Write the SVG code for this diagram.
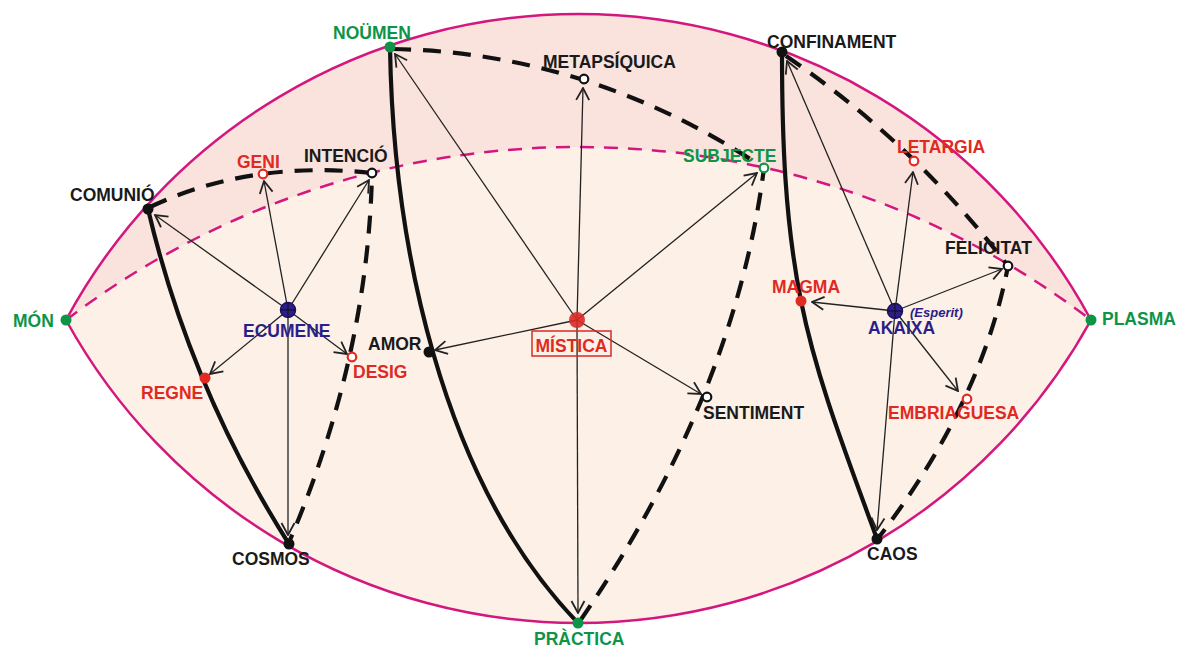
<svg xmlns="http://www.w3.org/2000/svg" width="1180" height="647" viewBox="0 0 1180 647">
<defs>
<style>
text{font-family:"Liberation Sans",Arial,sans-serif;font-weight:bold;font-size:17.5px;}
.k{fill:#1a1a1a}.r{fill:#df2a24}.g{fill:#0e9446}.n{fill:#2c1e8a}
.thick{fill:none;stroke:#111;stroke-width:4.2;stroke-linecap:butt}
.dash{fill:none;stroke:#111;stroke-width:4.2;stroke-dasharray:18 12}
.thin{fill:none;stroke:#222;stroke-width:1.3;marker-end:url(#ah)}
.dk{fill:#111}.dr{fill:#e02a22}.dg{fill:#0e9446}
.ho{fill:#fff;stroke-width:2.2}
.hub{fill:#2c1e8a;stroke:#1a1060;stroke-width:1.5}
</style>
<marker id="ah" viewBox="0 0 14 16" refX="13" refY="8" markerWidth="14" markerHeight="16" markerUnits="userSpaceOnUse" orient="auto">
<path d="M1,1.5 L13,8 L1,14.5" fill="none" stroke="#222" stroke-width="1.8"/>
</marker>
</defs>
<rect width="1180" height="647" fill="#fff"/>
<g id="background">
<path d="M66,320 A582.2,582.2 0 0 1 1091,320 A584.9,584.9 0 0 1 66,320 Z" fill="#fcf0e7"/>
<path d="M66,320 A582.2,582.2 0 0 1 1091,320 A845.6,845.6 0 0 0 66,320 Z" fill="#fae3dc"/>
<path d="M66,320 A845.6,845.6 0 0 1 1091,320" fill="none" stroke="#d4177f" stroke-width="2.5" stroke-dasharray="14 10"/>
<path d="M66,320 A582.2,582.2 0 0 1 1091,320 A584.9,584.9 0 0 1 66,320 Z" fill="none" stroke="#d4177f" stroke-width="2.5"/>
</g>
<g id="connectors">
<path class="thick" d="M148,209 Q190,388 289,544"/>
<path class="thick" d="M390,47 C393,240 440,480 578,623"/>
<path class="thick" d="M782,52 C782,140 785,221 801,301 C817,381 848,459 877,539"/>
<path class="dash" d="M150,207 Q250,160 372,173 Q368,356 290,540"/>
<path class="dash" d="M393,49 Q591,52.5 764,168 Q735,395 580,621"/>
<path class="dash" d="M786,56 Q914,143 1008,266 Q981.5,403.5 879,537"/>
<path class="thin" d="M288,310 L155,215"/>
<path class="thin" d="M288,310 L264,181"/>
<path class="thin" d="M288,310 L369,180"/>
<path class="thin" d="M288,310 L210,374"/>
<path class="thin" d="M288,310 L347,354"/>
<path class="thin" d="M288,310 L288,535"/>
<path class="thin" d="M577,320 L395,54"/>
<path class="thin" d="M577,320 L583,88"/>
<path class="thin" d="M577,320 L757,173"/>
<path class="thin" d="M577,320 L435,350"/>
<path class="thin" d="M577,320 L701,394"/>
<path class="thin" d="M577,320 L578,613"/>
<path class="thin" d="M895,311 L787,61"/>
<path class="thin" d="M895,311 L913,172"/>
<path class="thin" d="M895,311 L1002,269"/>
<path class="thin" d="M895,311 L812,302"/>
<path class="thin" d="M895,311 L958,391"/>
<path class="thin" d="M895,311 L877,530"/>
</g>
<g id="mon"><circle class="dg" cx="66" cy="320" r="5.5"/><text class="g" x="13" y="327">MÓN</text></g>
<g id="plasma"><circle class="dg" cx="1091" cy="320" r="5.5"/><text class="g" x="1102" y="325">PLASMA</text></g>
<g id="noumen"><circle class="dg" cx="390" cy="47" r="5.5"/><text class="g" x="333" y="39">NOÜMEN</text></g>
<g id="confinament"><circle class="dk" cx="782" cy="52" r="5.5"/><text class="k" x="767" y="48">CONFINAMENT</text></g>
<g id="comunio"><circle class="dk" cx="148" cy="209" r="5.5"/><text class="k" x="70" y="201">COMUNIÓ</text></g>
<g id="geni"><circle class="ho" stroke="#e02a22" cx="263" cy="174" r="4.3"/><text class="r" x="237" y="168">GENI</text></g>
<g id="intencio"><circle class="ho" stroke="#111" cx="372" cy="173" r="4.3"/><text class="k" x="304" y="162">INTENCIÓ</text></g>
<g id="metapsiquica"><circle class="ho" stroke="#111" cx="584" cy="79" r="4.3"/><text class="k" x="543" y="68">METAPSÍQUICA</text></g>
<g id="subjecte"><text class="g" x="683" y="162">SUBJECTE</text><circle class="ho" stroke="#0e9446" cx="764" cy="168" r="4.3"/></g>
<g id="letargia"><text class="r" x="897" y="153">LETARGIA</text><circle class="ho" stroke="#e02a22" cx="914" cy="161" r="4.3"/></g>
<g id="felicitat"><text class="k" x="945" y="254">FELICITAT</text><circle class="ho" stroke="#111" cx="1008" cy="266" r="4.3"/></g>
<g id="ecumene"><circle class="hub" cx="288" cy="310" r="7.5"/><path d="M281,310 H295 M288,303 V317" stroke="#111" stroke-width="1"/><text class="n" x="243" y="337">ECUMENE</text></g>
<g id="regne"><circle class="dr" cx="205" cy="378" r="5.5"/><text class="r" x="141" y="399">REGNE</text></g>
<g id="desig"><circle class="ho" stroke="#e02a22" cx="352" cy="357" r="4.3"/><text class="r" x="353" y="378">DESIG</text></g>
<g id="amor"><circle class="dk" cx="429" cy="352" r="5.5"/><text class="k" x="368" y="350">AMOR</text></g>
<g id="mistica"><circle cx="577" cy="320" r="8" fill="#d92a26" fill-opacity="0.9"/><rect x="532" y="331" width="79" height="25" fill="none" stroke="#d92a26" stroke-width="1.5"/><text class="r" x="571.5" y="352" text-anchor="middle">MÍSTICA</text></g>
<g id="sentiment"><circle class="ho" stroke="#111" cx="707" cy="397" r="4.3"/><text class="k" x="703" y="419">SENTIMENT</text></g>
<g id="magma"><circle class="dr" cx="801" cy="301" r="5.5"/><text class="r" x="772" y="293">MAGMA</text></g>
<g id="akaixa"><circle class="hub" cx="895" cy="311" r="7.5"/><path d="M888,311 H902 M895,304 V318" stroke="#111" stroke-width="1"/><text class="n" x="868" y="334">AKAIXA</text><text class="n" x="910" y="317" font-size="13" font-style="italic" style="font-size:13px">(Esperit)</text></g>
<g id="embriaguesa"><circle class="ho" stroke="#e02a22" cx="967" cy="399" r="4.3"/><text class="r" x="888" y="419">EMBRIAGUESA</text></g>
<g id="cosmos"><circle class="dk" cx="289" cy="544" r="5.5"/><text class="k" x="232" y="565">COSMOS</text></g>
<g id="practica"><circle class="dg" cx="578" cy="623" r="5.5"/><text class="g" x="534" y="645">PRÀCTICA</text></g>
<g id="caos"><circle class="dk" cx="877" cy="539" r="5.5"/><text class="k" x="867" y="560">CAOS</text></g>
</svg>
